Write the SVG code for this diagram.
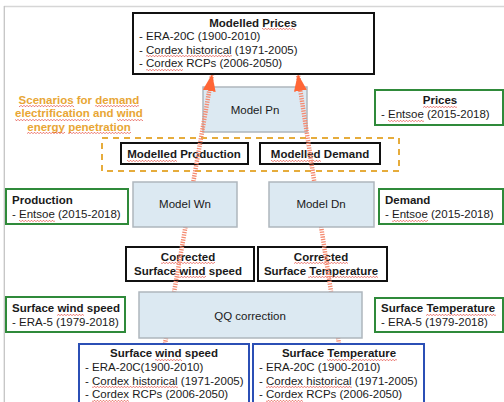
<svg xmlns="http://www.w3.org/2000/svg" width="504" height="402" viewBox="0 0 504 402">
<style>
text{font-family:"Liberation Sans",Arial,sans-serif;font-size:11.5px;fill:#1a1a1a}
.b{font-weight:bold}
.c{text-anchor:middle}
.blk{fill:#fff;stroke:#111;stroke-width:2}
.blkT{fill:none;stroke:#111;stroke-width:2}
.mdl{fill:#dce9f2;stroke:#aeb6bd;stroke-width:1.5}
.grn{fill:#fff;stroke:#2f8a3a;stroke-width:2}
.blu{fill:#fff;stroke:#2b4fb5;stroke-width:2}
.scn{fill:#e8a634;font-weight:bold}
.sq{fill:url(#sqp)}
.arr{stroke:#f58a70;stroke-width:4.5;stroke-dasharray:1.3 1.2;fill:none;marker-end:url(#ah)}
</style>
<defs>
<pattern id="sqp" x="0" y="0" width="3" height="2" patternUnits="userSpaceOnUse">
<path d="M0 1.8 L1.5 0.2 L3 1.8" fill="none" stroke="#e23b30" stroke-width="0.7"/>
</pattern>
<marker id="ah" viewBox="0 0 17 13" refX="16" refY="6.5" markerWidth="17" markerHeight="13" markerUnits="userSpaceOnUse" orient="auto">
<path d="M0 0 L17 6.5 L0 13 Z" fill="#ff6636"/>
</marker>
</defs>
<rect width="504" height="402" fill="#fff"/>
<g id="frame">
<line x1="4" y1="6.5" x2="504" y2="6.5" stroke="#d6d6d6" stroke-width="1.5"/>
<line x1="4.3" y1="6" x2="4.3" y2="402" stroke="#c4c4c4" stroke-width="1.3"/>
</g>

<g id="model-pn">
<rect class="mdl" x="203" y="87" width="104" height="45"/>
<text class="c" x="255" y="114">Model Pn</text>
</g>

<g id="scenario-box">
<rect x="102" y="138" width="297" height="33" fill="none" stroke="#e6ac3c" stroke-width="2" stroke-dasharray="6 5"/>
</g>

<g id="modelled-production">
<rect class="blkT" x="121" y="143" width="127" height="21"/>
<text class="b c" x="184" y="157.5">Modelled Production</text>
<rect class="sq" x="127" y="160" width="50" height="2"/>
</g>
<g id="modelled-demand">
<rect class="blkT" x="260" y="143" width="120" height="21"/>
<text class="b c" x="320" y="157.5">Modelled Demand</text>
<rect class="sq" x="271" y="160" width="50" height="2"/>
</g>

<g id="corrected-wind">
<rect class="blkT" x="126" y="247" width="128" height="34"/>
<text class="b c" x="188" y="260.5">Corrected</text>
<text class="b c" x="188" y="274.5">Surface wind speed</text>
<rect class="sq" x="161" y="262" width="54" height="2"/>
<rect class="sq" x="179" y="276" width="27" height="2"/>
</g>
<g id="corrected-temp">
<rect class="blkT" x="258" y="247" width="129" height="34"/>
<text class="b c" x="321" y="260.5">Corrected</text>
<text class="b c" x="321" y="274.5">Surface Temperature</text>
<rect class="sq" x="294" y="262" width="54" height="2"/>
<rect class="sq" x="308" y="276" width="70" height="2"/>
</g>

<g id="connectors">
<line class="arr" x1="165" y1="344" x2="212" y2="75"/>
<line class="arr" x1="339" y1="344" x2="298" y2="75"/>
</g>

<g id="modelled-prices">
<rect class="blk" x="133" y="13" width="241" height="61"/>
<text class="b c" x="253" y="26.5">Modelled Prices</text>
<text x="139" y="40">- ERA-20C (1900-2010)</text>
<text x="139" y="53.5">- Cordex historical (1971-2005)</text>
<text x="139" y="67">- Cordex RCPs (2006-2050)</text>
<rect class="sq" x="262" y="28" width="33" height="2"/>
<rect class="sq" x="146" y="55" width="86" height="2"/>
<rect class="sq" x="146" y="69" width="37" height="2"/>
</g>

<g id="scenarios">
<text class="scn c" x="79" y="103.5">Scenarios for demand</text>
<text class="scn c" x="79" y="117">electrification and wind</text>
<text class="scn c" x="79" y="130.5">energy penetration</text>
<rect class="sq" x="19" y="105" width="55" height="2"/>
<rect class="sq" x="95" y="105" width="44" height="2"/>
<rect class="sq" x="15" y="119" width="75" height="2"/>
<rect class="sq" x="117" y="119" width="26" height="2"/>
<rect class="sq" x="27" y="132" width="38" height="2"/>
<rect class="sq" x="68" y="132" width="63" height="2"/>
</g>

<g id="prices">
<rect class="grn" x="375" y="90" width="128" height="35"/>
<text class="b c" x="440" y="104">Prices</text>
<text x="381" y="118">- Entsoe (2015-2018)</text>
<rect class="sq" x="423" y="106" width="34" height="2"/>
<rect class="sq" x="388" y="120" width="36" height="2"/>
</g>

<g id="model-wn">
<rect class="mdl" x="133" y="182" width="104" height="45"/>
<text class="c" x="185" y="208">Model Wn</text>
</g>
<g id="model-dn">
<rect class="mdl" x="269" y="182" width="105" height="45"/>
<text class="c" x="321" y="208">Model Dn</text>
</g>

<g id="production">
<rect class="grn" x="6" y="189" width="122" height="35"/>
<text class="b" x="12" y="203.5">Production</text>
<text x="12" y="217.5">- Entsoe (2015-2018)</text>
<rect class="sq" x="19" y="220" width="36" height="2"/>
</g>
<g id="demand">
<rect class="grn" x="379" y="189" width="124" height="35"/>
<text class="b" x="385" y="203.5">Demand</text>
<text x="385" y="217.5">- Entsoe (2015-2018)</text>
<rect class="sq" x="392" y="220" width="36" height="2"/>
</g>

<g id="qq-correction">
<rect class="mdl" x="139" y="292" width="223" height="46"/>
<text class="c" x="250" y="319.5">QQ correction</text>
</g>

<g id="obs-wind">
<rect class="grn" x="6" y="297" width="119" height="35"/>
<text class="b" x="12" y="312">Surface wind speed</text>
<text x="12" y="326">- ERA-5 (1979-2018)</text>
<rect class="sq" x="57" y="314" width="27" height="2"/>
</g>
<g id="obs-temp">
<rect class="grn" x="375" y="298" width="128" height="34"/>
<text class="b" x="381" y="312">Surface Temperature</text>
<text x="381" y="326">- ERA-5 (1979-2018)</text>
<rect class="sq" x="426" y="314" width="70" height="2"/>
</g>

<g id="input-wind">
<rect class="blu" x="79" y="344" width="170" height="70"/>
<text class="b c" x="164" y="357">Surface wind speed</text>
<text x="85" y="371">- ERA-20C(1900-2010)</text>
<text x="85" y="384.5">- Cordex historical  (1971-2005)</text>
<text x="85" y="398">- Cordex RCPs (2006-2050)</text>
<rect class="sq" x="155" y="359" width="27" height="2"/>
<rect class="sq" x="92" y="386" width="86" height="2"/>
<rect class="sq" x="92" y="400" width="37" height="2"/>
</g>
<g id="input-temp">
<rect class="blu" x="253" y="344" width="171" height="70"/>
<text class="b c" x="339" y="357">Surface Temperature</text>
<text x="259" y="371">- ERA-20C (1900-2010)</text>
<text x="259" y="384.5">- Cordex historical  (1971-2005)</text>
<text x="259" y="398">- Cordex RCPs (2006-2050)</text>
<rect class="sq" x="327" y="359" width="70" height="2"/>
<rect class="sq" x="266" y="386" width="86" height="2"/>
<rect class="sq" x="266" y="400" width="37" height="2"/>
</g>
</svg>
